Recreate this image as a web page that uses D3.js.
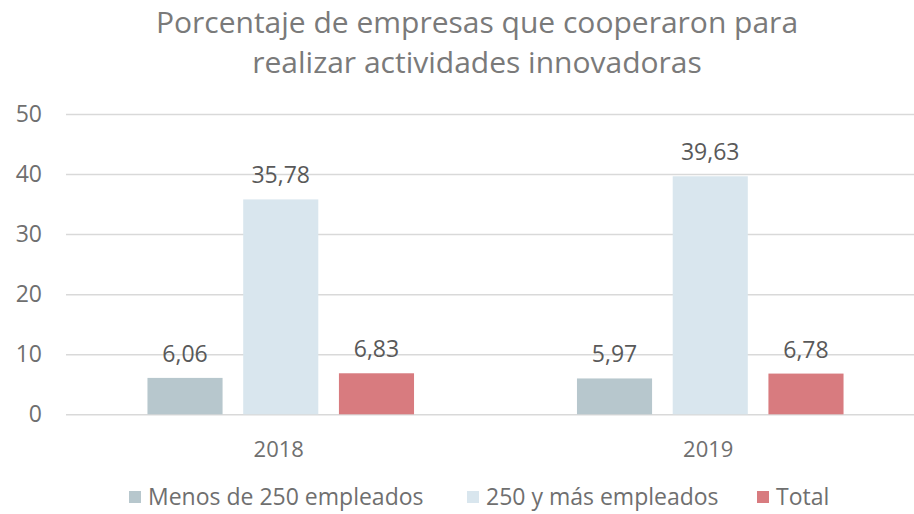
<!DOCTYPE html>
<html>
<head>
	<meta charset="utf-8">
	<title></title>
	<script src="https://d3js.org/d3.v7.min.js"></script>
	<style>
		body { margin: 0; background: #fff; }
		text { font-family: "Open Sans", sans-serif; }
	</style>
</head>
<body>
	<div id="chart"></div>
	<script>

	// datos
	var years = ["2018", "2019"];
	var series = ["Menos de 250 empleados", "250 y más empleados", "Total"];
	var menos250 = [6.06, 5.97];
	var mas250 = [35.78, 39.63];
	var total = [6.83, 6.78];
	var yTicks = [0, 10, 20, 30, 40, 50];
	var colors = ["#b7c7cd", "#d9e6ee", "#d87b7f"];

	var W = 914, H = 514;
	var svg = d3.select("#chart").append("svg").attr("width", W).attr("height", H);

	var rows = years.map(function(y, i) {
		return { year: y, vals: [menos250[i], mas250[i], total[i]] };
	});

	var x0 = d3.scaleBand().domain(years).range([66, 925]);
	var x1 = d3.scaleBand().domain(series).range([0, x0.bandwidth()])
		.paddingInner(0.2155).paddingOuter(0.851);
	var y = d3.scaleLinear().domain([0, 50]).range([414.3, 114]);

	// titulo
	svg.append("text").attr("x", 477).attr("y", 33).attr("text-anchor", "middle")
		.attr("fill", "#7a7a7a").style("font-size", "30px")
		.text("Porcentaje de empresas que cooperaron para");
	svg.append("text").attr("x", 477).attr("y", 73).attr("text-anchor", "middle")
		.attr("fill", "#7a7a7a").style("font-size", "30px")
		.text("realizar actividades innovadoras");

	// eje y con lineas de cuadricula
	var yAxis = svg.append("g").attr("transform", "translate(66,0)")
		.call(d3.axisLeft(y).tickValues(yTicks).tickSize(-(925 - 66)).tickFormat(d3.format("d")));
	yAxis.select(".domain").remove();
	yAxis.selectAll(".tick line").attr("stroke", "#d9d9d9").attr("stroke-width", 1.5);
	yAxis.selectAll(".tick text").attr("x", -24).attr("fill", "#6f6f6f")
		.style("font-size", "23px").style("font-family", "'Open Sans', sans-serif");

	// barras
	var groups = svg.selectAll(".grp").data(rows).enter().append("g")
		.attr("transform", function(d) { return "translate(" + x0(d.year) + ",0)"; });

	groups.selectAll("rect").data(function(d) { return d.vals; }).enter().append("rect")
		.attr("x", function(d, i) { return x1(series[i]); })
		.attr("y", function(d) { return y(d); })
		.attr("width", x1.bandwidth())
		.attr("height", function(d) { return y(0) - y(d); })
		.attr("fill", function(d, i) { return colors[i]; });

	var fmt = function(v) { return d3.format(".2f")(v).replace(".", ","); };
	groups.selectAll(".lbl").data(function(d) { return d.vals; }).enter().append("text")
		.attr("x", function(d, i) { return x1(series[i]) + x1.bandwidth() / 2; })
		.attr("y", function(d) { return y(d) - 16; })
		.attr("text-anchor", "middle").attr("fill", "#595959").style("font-size", "23px")
		.text(fmt);

	// etiquetas de categoria
	svg.selectAll(".cat").data(years).enter().append("text")
		.attr("x", function(d) { return x0(d) + x0.bandwidth() / 2 - 2; })
		.attr("y", 457).attr("text-anchor", "middle").attr("fill", "#6f6f6f")
		.style("font-size", "22px").text(function(d) { return d; });

	// leyenda
	var legX = [129, 467, 757];
	var leg = svg.selectAll(".leg").data(series).enter().append("g")
		.attr("transform", function(d, i) { return "translate(" + legX[i] + ",491)"; });
	leg.append("rect").attr("width", 12).attr("height", 12)
		.attr("fill", function(d, i) { return colors[i]; });
	leg.append("text").attr("x", 19).attr("y", 14).attr("fill", "#6f6f6f")
		.style("font-size", "23px").text(function(d) { return d; });

	</script>
</body>
</html>
